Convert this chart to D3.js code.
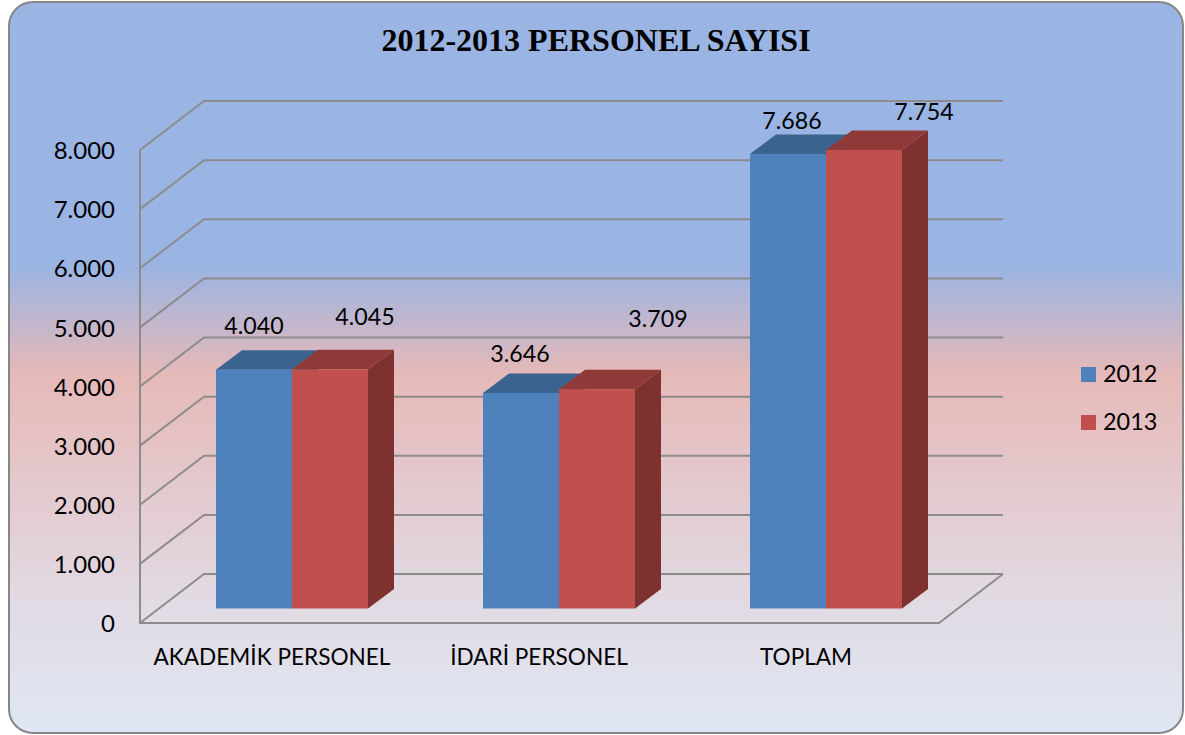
<!DOCTYPE html>
<html>
<head>
<meta charset="utf-8">
<script src="https://cdn.jsdelivr.net/npm/d3@7"></script>
<style>
  html, body { margin: 0; padding: 0; background: #fff; }
  svg { display: block; }
  text { font-family: Lato, sans-serif; fill: #000; }
</style>
</head>
<body>
<svg id="chart"></svg>
<script>
const title = '2012-2013 PERSONEL SAYISI';
const categories = ['AKADEMİK PERSONEL', 'İDARİ PERSONEL', 'TOPLAM'];
const seriesNames = ['2012', '2013'];
const values2012 = [4040, 3646, 7686];
const values2013 = [4045, 3709, 7754];
const yTicks = [0, 1000, 2000, 3000, 4000, 5000, 6000, 7000, 8000];

const width = 1185;
const height = 735;
const depthX = 64;   // how far the back wall sits from the front axis
const depthY = -49;
const barDepthX = 26;
const barDepthY = -19.5;
const barShiftX = 18.5;  // bars stand in the middle of the floor
const barShiftY = -14.5;

const colors = {
  '2012': {front: '#4f81bd', top: '#3b6390', side: '#3b6390'},
  '2013': {front: '#c0504d', top: '#8f3a38', side: '#7f3130'}
};
const gridColor = '#8c8c8c';

const svg = d3.select('#chart')
    .attr('width', width)
    .attr('height', height);

const grad = svg.append('defs')
    .append('linearGradient')
    .attr('id', 'bg')
    .attr('x1', 0).attr('x2', 0)
    .attr('y1', 0).attr('y2', 1);

[[0, '#9ab4e4'], [0.36, '#9ab4e4'], [0.51, '#e6b9b8'], [0.82, '#e1dae3'], [1, '#dfe7f4']]
    .forEach(d => grad.append('stop').attr('offset', d[0]).attr('stop-color', d[1]));

svg.append('rect')
    .attr('x', 9).attr('y', 2)
    .attr('width', 1174).attr('height', 731)
    .attr('rx', 24).attr('ry', 24)
    .attr('fill', 'url(#bg)')
    .attr('stroke', '#868686')
    .attr('stroke-width', 2);

svg.append('text')
    .attr('x', 596)
    .attr('y', 51)
    .attr('text-anchor', 'middle')
    .style('font-family', '"Liberation Serif", serif')
    .style('font-weight', 'bold')
    .style('font-size', '32px')
    .text(title);

const y = d3.scaleLinear().domain([0, 8000]).range([623, 150]);
const x = d3.scaleBand().domain(categories).range([140, 941]);
const xSeries = d3.scaleBand().domain(seriesNames).range([0, 152]);
const plotRight = 939;

const fmt = d3.formatLocale({decimal: ',', thousands: '.', grouping: [3], currency: ['', '']}).format(',d');

// walls and gridlines
const grid = svg.append('g')
    .attr('fill', 'none')
    .attr('stroke', gridColor)
    .attr('stroke-width', 2);

grid.selectAll('path.tick')
    .data(yTicks)
    .join('path')
    .attr('class', 'tick')
    .attr('d', d => {
      const p = d3.path();
      p.moveTo(140, y(d));
      p.lineTo(140 + depthX, y(d) + depthY);
      p.lineTo(plotRight + depthX, y(d) + depthY);
      return p.toString();
    });

const floor = d3.path();
floor.moveTo(140, y(8000));
floor.lineTo(140, y(0));
floor.lineTo(plotRight, y(0));
floor.lineTo(plotRight + depthX, y(0) + depthY);
grid.append('path').attr('d', floor.toString());

// y axis labels
svg.append('g')
    .attr('transform', 'translate(115,1)')
    .call(d3.axisLeft(y).tickValues(yTicks).tickFormat(fmt).tickSize(0))
    .call(g => g.select('.domain').remove())
    .selectAll('text')
    .attr('x', 0)
    .style('font-size', '24px');

// category labels
svg.append('g')
    .attr('transform', 'translate(-1.5,649)')
    .call(d3.axisBottom(x).tickSize(0))
    .call(g => g.select('.domain').remove())
    .selectAll('text')
    .attr('y', 0)
    .attr('dy', '0.71em')
    .style('font-size', '22.6px');

// bars
const bars = [];
categories.forEach((c, i) => {
  bars.push({category: c, series: '2012', value: values2012[i]});
  bars.push({category: c, series: '2013', value: values2013[i]});
});

const barG = svg.append('g').selectAll('g')
    .data(bars)
    .join('g');

barG.each(function(d) {
  const g = d3.select(this);
  const x0 = x(d.category) + x.bandwidth() / 2 - 76 + barShiftX + xSeries(d.series);
  const x1 = x0 + xSeries.bandwidth();
  const yb = y(0) + barShiftY;
  const yt = y(d.value) + barShiftY;
  const c = colors[d.series];
  g.append('polygon')
      .attr('fill', c.side)
      .attr('points', [[x1, yt], [x1 + barDepthX, yt + barDepthY], [x1 + barDepthX, yb + barDepthY], [x1, yb]].join(' '));
  g.append('polygon')
      .attr('fill', c.top)
      .attr('points', [[x0, yt], [x0 + barDepthX, yt + barDepthY], [x1 + barDepthX, yt + barDepthY], [x1, yt]].join(' '));
  g.append('rect')
      .attr('x', x0)
      .attr('y', yt)
      .attr('width', x1 - x0)
      .attr('height', yb - yt)
      .attr('fill', c.front);
});

// value labels, moved by hand in the original so each has its own nudge
const labelNudge = [[0, -44], [35, -52], [-1, -39], [61, -70], [4, -33], [60, -38]];
svg.append('g').selectAll('text')
    .data(bars)
    .join('text')
    .attr('x', (d, i) => x(d.category) + x.bandwidth() / 2 - 76 + barShiftX + xSeries(d.series) + xSeries.bandwidth() / 2 + labelNudge[i][0])
    .attr('y', (d, i) => y(d.value) + barShiftY + labelNudge[i][1])
    .attr('text-anchor', 'middle')
    .attr('dy', '0.35em')
    .style('font-size', '23.2px')
    .text(d => fmt(d.value));

// legend
const legend = svg.append('g').selectAll('g')
    .data(seriesNames)
    .join('g')
    .attr('transform', (d, i) => `translate(1081,${367 + i * 48})`);

legend.append('rect')
    .attr('width', 15)
    .attr('height', 15)
    .attr('fill', d => colors[d].front);

legend.append('text')
    .attr('x', 22)
    .attr('y', 6.5)
    .attr('dy', '0.35em')
    .style('font-size', '23.4px')
    .text(d => d);
</script>
</body>
</html>
